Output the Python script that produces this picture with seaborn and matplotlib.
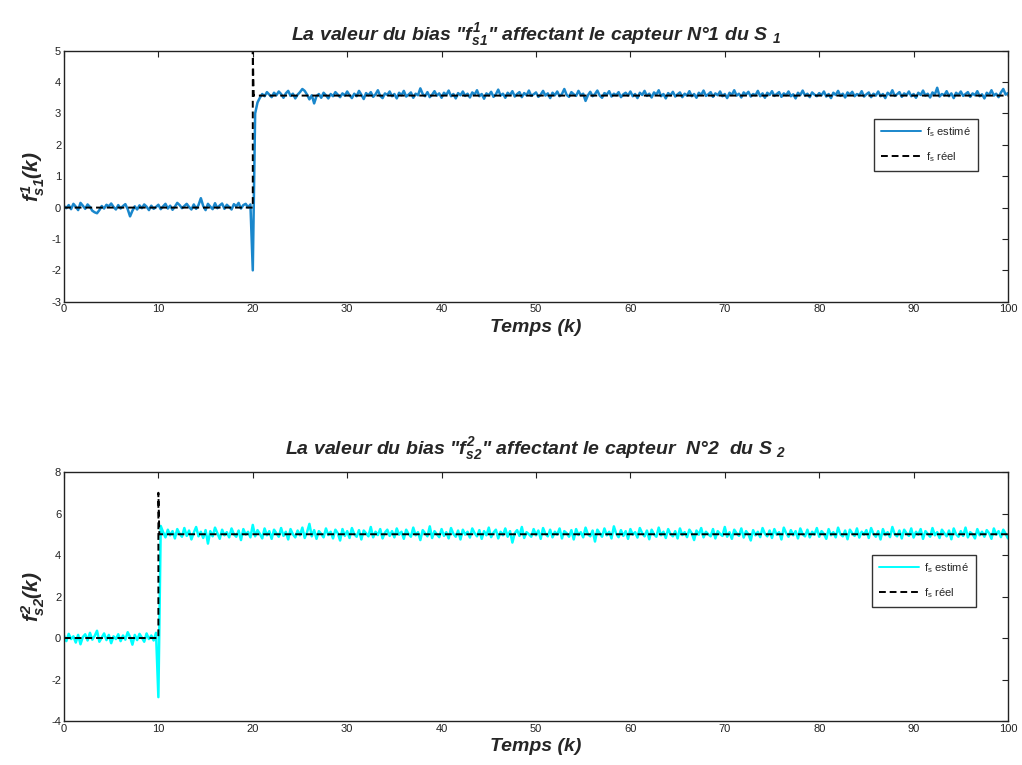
"""Bias estimates for the two sensors (MATLAB-style figure)."""

import numpy as np
import matplotlib
matplotlib.use("Agg")
import matplotlib.pyplot as plt
import seaborn as sns
from matplotlib.lines import Line2D

# sample step of the estimated signals (k units)
STEP = 0.25

# estimated bias, sensor 1 (k = 0 .. 100 every 0.25)
fs1_estime = [
    0.05, -0.02, 0.08, -0.05, 0.12, 0.03, -0.08, 0.15, 0.06, -0.04, 0.10, 0.02, -0.10, -0.15, -0.18, -0.08, 0.05, -0.03, 0.09, 0.04,
    0.13, 0.02, -0.06, 0.08, -0.03, 0.05, 0.11, -0.05, -0.28, -0.10, 0.04, -0.06, 0.07, -0.02, 0.10, 0.03, -0.08, 0.06, -0.04, 0.02,
    0.09, -0.05, 0.04, 0.12, -0.03, 0.06, -0.07, 0.03, 0.15, 0.08, -0.02, 0.05, 0.12, 0.02, -0.06, 0.10, -0.04, 0.08, 0.30, 0.05,
    -0.08, 0.12, 0.03, -0.05, 0.14, -0.02, 0.07, 0.13, -0.04, 0.09, 0.02, -0.06, 0.11, 0.04, 0.15, -0.03, 0.08, 0.12, 0.01, 0.10,
    -2.00,
    3.00, 3.35, 3.50, 3.62, 3.55, 3.68, 3.60, 3.52, 3.66, 3.58, 3.70, 3.62, 3.50, 3.64, 3.72, 3.56, 3.63, 3.48, 3.60,
    3.68, 3.78, 3.72, 3.60, 3.45, 3.58, 3.32, 3.55, 3.62, 3.50, 3.66, 3.58, 3.48, 3.62, 3.55, 3.68, 3.60, 3.52, 3.64, 3.57,
    3.70, 3.58, 3.49, 3.63, 3.55, 3.72, 3.60, 3.46, 3.65, 3.58, 3.68, 3.53, 3.61, 3.74, 3.56, 3.49, 3.64, 3.59, 3.70, 3.55,
    3.62, 3.48, 3.66, 3.58, 3.72, 3.54, 3.60, 3.67, 3.50, 3.63, 3.58, 3.80, 3.62, 3.55, 3.68, 3.52, 3.60, 3.71, 3.57, 3.64,
    3.50, 3.66, 3.59, 3.73, 3.55, 3.62, 3.48, 3.65, 3.58, 3.70, 3.56, 3.63, 3.51, 3.67, 3.60, 3.74, 3.55, 3.62, 3.47, 3.64,
    3.58, 3.69, 3.53, 3.61, 3.76, 3.57, 3.63, 3.50, 3.66, 3.59, 3.71, 3.54, 3.62, 3.68, 3.52, 3.65, 3.58, 3.73, 3.56, 3.61,
    3.67, 3.53, 3.60, 3.72, 3.57, 3.64, 3.49, 3.66, 3.58, 3.70, 3.55, 3.62, 3.78, 3.59, 3.53, 3.68, 3.61, 3.56, 3.72, 3.58,
    3.63, 3.40, 3.58, 3.69, 3.55, 3.62, 3.73, 3.57, 3.50, 3.65, 3.60, 3.71, 3.54, 3.63, 3.58, 3.68, 3.52, 3.61, 3.66, 3.57,
    3.70, 3.55, 3.62, 3.49, 3.66, 3.59, 3.72, 3.56, 3.63, 3.51, 3.67, 3.60, 3.74, 3.55, 3.62, 3.48, 3.65, 3.58, 3.69, 3.54,
    3.61, 3.67, 3.52, 3.63, 3.57, 3.71, 3.55, 3.62, 3.50, 3.66, 3.59, 3.73, 3.56, 3.61, 3.68, 3.53, 3.64, 3.58, 3.70, 3.55,
    3.62, 3.49, 3.66, 3.59, 3.74, 3.57, 3.63, 3.51, 3.67, 3.60, 3.69, 3.54, 3.62, 3.58, 3.72, 3.55, 3.64, 3.50, 3.66, 3.59,
    3.71, 3.56, 3.62, 3.68, 3.53, 3.64, 3.58, 3.70, 3.55, 3.61, 3.48, 3.66, 3.59, 3.73, 3.57, 3.63, 3.52, 3.67, 3.60, 3.55,
    3.65, 3.58, 3.70, 3.54, 3.62, 3.49, 3.66, 3.59, 3.72, 3.56, 3.63, 3.51, 3.67, 3.60, 3.69, 3.55, 3.62, 3.58, 3.71, 3.54,
    3.61, 3.67, 3.52, 3.63, 3.57, 3.70, 3.55, 3.62, 3.49, 3.66, 3.59, 3.74, 3.56, 3.61, 3.68, 3.53, 3.64, 3.58, 3.70, 3.55,
    3.62, 3.50, 3.66, 3.59, 3.73, 3.57, 3.63, 3.51, 3.67, 3.60, 3.82, 3.54, 3.62, 3.58, 3.71, 3.55, 3.64, 3.49, 3.66, 3.59,
    3.70, 3.56, 3.62, 3.68, 3.53, 3.64, 3.58, 3.71, 3.55, 3.61, 3.48, 3.66, 3.59, 3.74, 3.57, 3.63, 3.52, 3.67, 3.78, 3.60, 3.65,
]

# estimated bias, sensor 2 (k = 0 .. 100 every 0.25)
fs2_estime = [
    0.12, -0.15, 0.20, -0.05, 0.08, -0.22, 0.15, -0.30, 0.05, 0.18, -0.12, 0.25, -0.08, 0.10, 0.35, -0.18, 0.02, 0.22, -0.10, 0.15,
    -0.25, 0.08, -0.05, 0.18, -0.15, 0.12, -0.08, 0.28, 0.05, -0.32, 0.15, -0.10, 0.20, 0.02, -0.18, 0.22, -0.05, 0.12, -0.12, 0.25,
    -2.85,
    5.40, 5.10, 4.85, 5.22, 4.95, 5.15, 4.80, 5.25, 5.02, 4.88, 5.30, 4.92, 5.18, 4.75, 5.08, 5.35, 4.90, 5.12, 4.82,
    5.20, 4.55, 5.15, 4.90, 5.32, 5.05, 4.78, 5.22, 4.95, 5.10, 4.85, 5.28, 5.00, 4.88, 5.18, 4.72, 5.25, 4.98, 5.12, 4.85,
    5.45, 4.90, 5.20, 5.02, 4.80, 5.28, 4.95, 5.15, 4.78, 5.22, 5.05, 4.88, 5.30, 4.92, 5.12, 4.75, 5.25, 5.00, 4.85, 5.18,
    4.95, 5.32, 4.82, 5.10, 5.50, 4.90, 5.20, 4.78, 5.15, 5.02, 4.85, 5.28, 4.96, 5.12, 4.80, 5.22, 5.05, 4.70, 5.25, 4.92,
    5.15, 4.82, 5.30, 5.00, 4.88, 5.20, 4.75, 5.18, 5.05, 4.90, 5.35, 4.85, 5.12, 4.96, 5.25, 4.80, 5.08, 5.22, 4.92, 5.15,
    4.85, 5.28, 4.98, 5.12, 4.78, 5.22, 5.02, 4.88, 5.32, 4.95, 5.10, 4.72, 5.20, 5.05, 4.90, 5.38, 4.82, 5.15, 5.00, 4.86,
    5.25, 4.92, 5.10, 4.80, 5.30, 5.02, 4.88, 5.18, 4.75, 5.22, 4.98, 5.12, 4.84, 5.28, 5.05, 4.90, 5.20, 4.78, 5.15, 4.95,
    5.32, 4.86, 5.08, 5.22, 4.80, 5.12, 4.95, 5.28, 4.88, 5.15, 4.60, 5.05, 5.20, 4.92, 5.35, 4.82, 5.10, 5.00, 4.88, 5.25,
    4.95, 5.18, 4.78, 5.30, 5.02, 4.90, 5.22, 4.85, 5.12, 4.98, 5.28, 4.80, 5.15, 5.05, 4.88, 5.20, 4.75, 5.25, 4.96, 5.10,
    4.85, 5.32, 5.00, 4.90, 5.18, 4.65, 5.22, 5.05, 4.88, 5.28, 4.95, 5.12, 4.80, 5.38, 5.02, 4.86, 5.20, 4.92, 5.15, 4.78,
    5.25, 4.98, 5.10, 4.84, 5.30, 5.05, 4.90, 5.18, 4.76, 5.22, 5.00, 4.88, 5.32, 4.95, 5.12, 4.82, 5.25, 5.02, 4.90, 5.15,
    4.80, 5.28, 4.96, 5.10, 4.86, 5.22, 5.05, 4.72, 5.18, 4.98, 5.30, 4.85, 5.12, 5.00, 4.90, 5.25, 4.80, 5.15, 5.02, 4.92,
    5.35, 4.88, 5.10, 4.78, 5.22, 5.05, 4.92, 5.28, 4.84, 5.15, 5.00, 4.70, 5.20, 4.95, 5.12, 4.86, 5.30, 5.02, 4.90, 5.18,
    4.82, 5.25, 4.98, 5.10, 4.75, 5.32, 5.05, 4.88, 5.20, 4.95, 5.15, 4.80, 5.28, 5.00, 4.90, 5.22, 4.85, 5.12, 4.98, 5.30,
    4.88, 5.15, 5.02, 4.78, 5.25, 4.95, 5.10, 4.85, 5.32, 5.00, 4.90, 5.18, 4.76, 5.22, 5.05, 4.92, 5.28, 4.84, 5.12, 4.98,
    5.20, 4.82, 5.30, 5.02, 4.88, 5.15, 4.75, 5.25, 4.96, 5.10, 4.86, 5.35, 5.00, 4.90, 5.18, 4.80, 5.22, 5.05, 4.92, 5.28,
    4.84, 5.12, 4.98, 5.25, 4.78, 5.15, 5.02, 4.88, 5.30, 4.95, 5.10, 4.82, 5.22, 5.05, 4.90, 5.18, 4.76, 5.28, 5.00, 4.88,
    5.15, 4.92, 5.32, 4.85, 5.10, 5.00, 4.80, 5.25, 4.95, 5.12, 4.88, 5.20, 5.05, 4.78, 5.28, 4.98, 5.15, 4.86, 5.22, 5.02, 4.80,
]

# true bias (step with an initial overshoot)
fs1_reel_t = [0, 20, 20, 20.1, 100]
fs1_reel_v = [0, 0, 5, 3.57, 3.57]
fs2_reel_t = [0, 10, 10, 10.1, 100]
fs2_reel_v = [0, 0, 7, 5, 5]

COL_S1 = "#1a87cc"
COL_S2 = "#00ffff"

sns.set_theme(style="white")
plt.rcParams["font.family"] = ["Liberation Sans", "DejaVu Sans"]
plt.rcParams["axes.unicode_minus"] = False
plt.rcParams["mathtext.fontset"] = "custom"
plt.rcParams["mathtext.rm"] = "Liberation Sans:bold:italic"
plt.rcParams["mathtext.it"] = "Liberation Sans:bold:italic"
plt.rcParams["mathtext.bf"] = "Liberation Sans:bold:italic"
plt.rcParams["mathtext.sf"] = "Liberation Sans"


def draw_panel(ax, est, reel_t, reel_v, color, ylim, yticks, title, ylabel,
               leg_anchor, title_pad):
    t = np.arange(len(est)) * STEP
    sns.lineplot(x=t, y=est, ax=ax, color=color, lw=1.8,
                 estimator=None, sort=False)
    sns.lineplot(x=reel_t, y=reel_v, ax=ax, color="black", lw=1.4,
                 estimator=None, sort=False, linestyle=(0, (3.5, 2)))
    ax.set_xlim(0, 100)
    ax.set_ylim(*ylim)
    ax.set_xticks(range(0, 101, 10))
    ax.set_yticks(yticks)
    ax.tick_params(direction="in", top=True, right=True, length=4,
                   width=0.8, labelsize=8, pad=2, colors="#222222")
    for sp in ax.spines.values():
        sp.set_linewidth(1.0)
        sp.set_color("#222222")
    ax.set_title(title, fontsize=14, fontweight="bold", style="italic", pad=title_pad)
    ax.set_xlabel("Temps (k)", fontsize=14, fontweight="bold", style="italic", labelpad=3)
    ax.set_ylabel(ylabel, fontsize=15, labelpad=3)

    handles = [
        Line2D([], [], color=color, lw=1.4),
        Line2D([], [], color="black", lw=1.4, linestyle=(0, (3.5, 2))),
    ]
    labels = [r"f$_{\mathsf{s}}$ estimé", r"f$_{\mathsf{s}}$ réel"]
    leg = ax.legend(handles, labels, loc="upper left", bbox_to_anchor=leg_anchor,
                    fontsize=8, frameon=True, fancybox=False, handlelength=3.6,
                    labelspacing=1.0, borderpad=0.6, handletextpad=0.5)
    leg.get_frame().set_edgecolor("black")
    leg.get_frame().set_linewidth(1.0)


fig = plt.figure(figsize=(10.22, 7.65), dpi=100)
ax1 = fig.add_axes([0.0626, 0.6056, 0.9237, 0.3281])
ax2 = fig.add_axes([0.0626, 0.0575, 0.9237, 0.3255])

draw_panel(ax1, fs1_estime, fs1_reel_t, fs1_reel_v, COL_S1, (-3, 5), range(-3, 6),
           'La valeur du bias "$f^1_{s1}$" affectant le capteur N°1 du S $_1$',
           r"$f^1_{s1}(k)$", (0.852, 0.752), 8)
draw_panel(ax2, fs2_estime, fs2_reel_t, fs2_reel_v, COL_S2, (-4, 8), range(-4, 9, 2),
           'La valeur du bias "$f^2_{s2}$" affectant le capteur  N°2  du S $_2$',
           r"$f^2_{s2}(k)$", (0.850, 0.691), 13)

fig.savefig("out.png", dpi=100, facecolor="white")
